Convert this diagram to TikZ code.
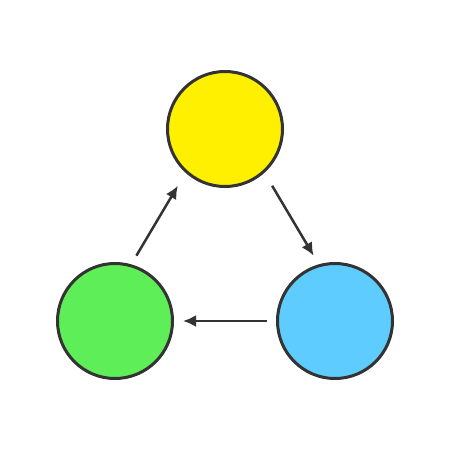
\documentclass[tikz,border=0pt]{standalone}
\usetikzlibrary{arrows.meta}
\definecolor{sunyellow}{RGB}{255,240,0}
\definecolor{leafgreen}{RGB}{94,238,88}
\definecolor{skyblue}{RGB}{94,204,255}
\definecolor{inkgray}{RGB}{51,51,51}
\tikzset{
  ball/.style={circle, draw=inkgray, line width=3pt, minimum size=115pt, inner sep=0pt},
  flow/.style={draw=inkgray, line width=2.5pt, -{Latex[length=13pt,width=12pt]}}
}
\begin{document}
\begin{tikzpicture}[x=1pt,y=-1pt]
  \useasboundingbox (0,0) rectangle (450,469);
  \node[ball, fill=sunyellow] (top) at (225,129) {};
  \node[ball, fill=skyblue] (right) at (335,321) {};
  \node[ball, fill=leafgreen] (left) at (115,321) {};
  \draw[flow, shorten <=10pt, shorten >=15pt] (left.74) -- (top.228);
  \draw[flow, shorten <=15pt, shorten >=10pt] (top.312) -- (right.106);
  \draw[flow, shorten <=9pt, shorten >=9pt] (right.180) -- (left.0);
\end{tikzpicture}
\end{document}
